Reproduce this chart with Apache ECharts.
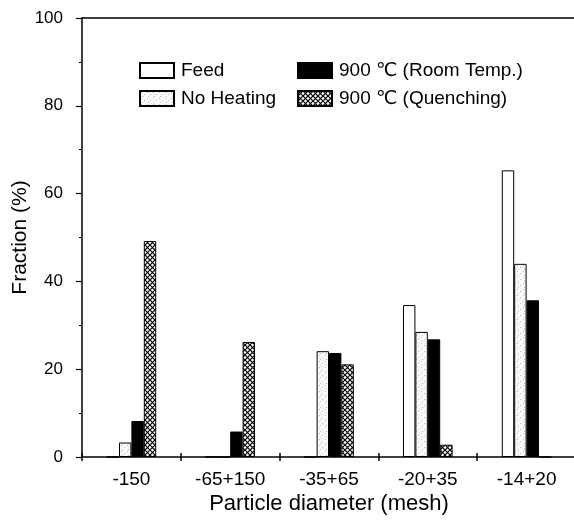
<!DOCTYPE html>
<html><head><meta charset="utf-8">
<script src="https://cdn.jsdelivr.net/npm/echarts@6/dist/echarts.min.js"></script>
<style>html,body{margin:0;padding:0;background:#fff}#c{width:574px;height:521px}</style>
</head><body><div id="c"></div>
<script>
var categories = ['-150', '-65+150', '-35+65', '-20+35', '-14+20'];
var feed = [0, 0, 0, 34.6, 65.3];
var noHeating = [3.3, 0, 24.1, 28.5, 44.0];
var roomTemp = [8.2, 5.8, 23.7, 26.8, 35.7];
var quenching = [49.2, 26.2, 21.1, 2.8, 0];
var yTicks = [0, 20, 40, 60, 80, 100];

function crossPattern() {
  var s = 5;
  var c = document.createElement('canvas');
  c.width = s; c.height = s;
  var g = c.getContext('2d');
  g.fillStyle = '#fff'; g.fillRect(0, 0, s, s);
  g.strokeStyle = '#000'; g.lineWidth = 1.2;
  g.beginPath();
  g.moveTo(-1, -1); g.lineTo(s + 1, s + 1);
  g.moveTo(s + 1, -1); g.lineTo(-1, s + 1);
  g.stroke();
  return c;
}
function dotPattern() {
  var c = document.createElement('canvas');
  c.width = 6; c.height = 6;
  var g = c.getContext('2d');
  g.fillStyle = '#fafafa'; g.fillRect(0, 0, 6, 6);
  g.fillStyle = '#bbb';
  g.fillRect(1, 1, 1, 1); g.fillRect(4, 3, 1, 1); g.fillRect(2, 5, 1, 1);
  return c;
}
var crossFill = { image: crossPattern(), repeat: 'repeat' };
var dotFill = { image: dotPattern(), repeat: 'repeat' };

var font = '"Liberation Sans", Arial, "DejaVu Sans", sans-serif';
var chart = echarts.init(document.getElementById('c'), null, { renderer: 'canvas' });

function bar(name, data, fill) {
  return {
    name: name, type: 'bar', data: data, xAxisIndex: 0, yAxisIndex: 0,
    barWidth: 12.4, barGap: '0%',
    itemStyle: { color: fill, borderColor: '#000', borderWidth: 1 },
    emphasis: { disabled: true }, animation: false
  };
}

var legendCommon = {
  orient: 'vertical', itemWidth: 34, itemHeight: 15, itemGap: 9,
  textStyle: { fontFamily: font, fontSize: 19, color: '#000', padding: [0, 0, 0, 2] },
  selectedMode: false, padding: 0, icon: 'rect'
};

chart.setOption({
  animation: false,
  backgroundColor: '#fff',
  grid: { left: 82, top: 18, width: 494, bottom: 64, containLabel: false, outerBoundsMode: 'none' },
  legend: [
    Object.assign({ left: 139, top: 61, data: ['Feed', 'No Heating'] }, legendCommon),
    Object.assign({ left: 297, top: 61, data: ['900 ℃ (Room Temp.)', '900 ℃ (Quenching)'] }, legendCommon)
  ],
  xAxis: [
    {
      type: 'category', data: categories, position: 'bottom',
      axisLine: { lineStyle: { color: '#000', width: 1.5 } },
      axisTick: { show: true, inside: false, length: 4, lineStyle: { color: '#000', width: 1.5 } },
      axisLabel: { fontFamily: font, fontSize: 19, color: '#000', margin: 13 },
      name: 'Particle diameter (mesh)', nameLocation: 'middle', nameGap: 36, nameMoveOverlap: false,
      nameTextStyle: { fontFamily: font, fontSize: 22, color: '#000' },
      splitLine: { show: false }
    },
    {
      type: 'category', data: categories, position: 'top',
      axisLine: { lineStyle: { color: '#000', width: 1.5 } },
      axisTick: { show: false }, axisLabel: { show: false }, splitLine: { show: false }
    },
    {
      type: 'category', data: categories, position: 'bottom',
      axisLine: { show: false },
      axisTick: { show: true, inside: true, length: 4, lineStyle: { color: '#000', width: 1.5 } },
      axisLabel: { show: false }, splitLine: { show: false }
    }
  ],
  yAxis: [{
    type: 'value', min: 0, max: 100, interval: 20,
    axisLine: { show: true, lineStyle: { color: '#000', width: 1.5 } },
    axisTick: { show: true, inside: false, length: 6, lineStyle: { color: '#000', width: 1.2 } },
    minorTick: { show: true, splitNumber: 2, length: 3, lineStyle: { color: '#000', width: 1 } },
    axisLabel: {
      fontFamily: font, fontSize: 17, color: '#000', margin: 19,
      formatter: function (v) { return yTicks.indexOf(v) >= 0 ? String(v) : ''; }
    },
    splitLine: { show: false },
    name: 'Fraction (%)', nameLocation: 'middle', nameGap: 51, nameMoveOverlap: false,
    nameTextStyle: { fontFamily: font, fontSize: 21, color: '#000' }
  }],
  series: [
    bar('Feed', feed, '#fff'),
    bar('No Heating', noHeating, dotFill),
    bar('900 ℃ (Room Temp.)', roomTemp, '#000'),
    bar('900 ℃ (Quenching)', quenching, crossFill)
  ]
});
</script></body></html>
